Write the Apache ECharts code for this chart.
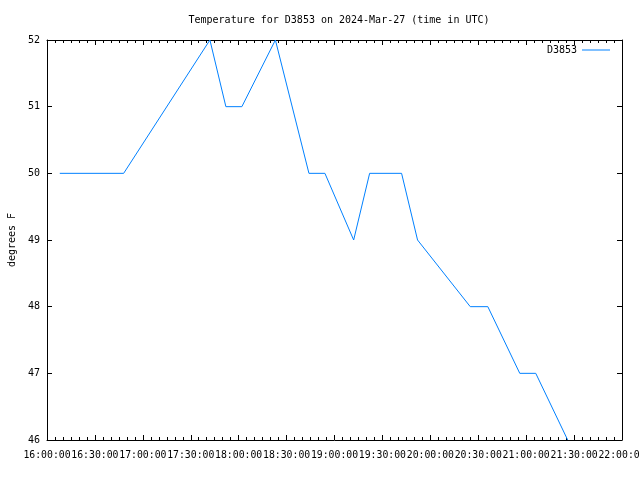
<!DOCTYPE html>
<html>
<head>
<meta charset="utf-8">
<script src="https://cdn.jsdelivr.net/npm/echarts@6/dist/echarts.min.js"></script>
<style>html,body{margin:0;padding:0;background:#fff}#c{width:640px;height:480px}</style>
</head>
<body>
<div id="c"></div>
<script>
var times = ["16:08","16:48","17:42","17:52","18:02","18:23","18:44","18:54","19:12","19:22","19:42","19:52","20:25","20:36","20:56","21:06","21:26"];
var temps = [50,50,52,51,51,52,50,50,49,50,50,49,48,48,47,47,46];
var seriesName = "D3853";
var titleText = "Temperature for D3853 on 2024-Mar-27 (time in UTC)";
var yName = "degrees F";

function toMin(t){var p=t.split(":");return (+p[0])*60+(+p[1]);}
function fmt(v){var h=Math.floor(v/60),m=v%60;return (h<10?"0":"")+h+":"+(m<10?"0":"")+m+":00";}

var data = times.map(function(t,i){return [toMin(t), temps[i]];});
var font = "DejaVu Sans Mono";
var black = "#000";

var chart = echarts.init(document.getElementById('c'), null, {renderer:'canvas'});
chart.setOption({
  animation:false,
  backgroundColor:'#fff',
  title:{text:titleText, left:334, top:10, textAlign:'center',
    textStyle:{fontFamily:font,fontSize:10,fontWeight:'normal',color:black}},
  legend:{data:[seriesName], right:25, top:40, align:'right', itemWidth:28, itemHeight:1,
    icon:'rect', itemGap:5,
    textStyle:{fontFamily:font,fontSize:10,color:black}},
  grid:{left:47, right:18, top:40, bottom:40, show:false, containLabel:false, outerBoundsMode:'none'},
  xAxis:[{
    type:'value', min:960, max:1320, interval:30, position:'bottom',
    axisLine:{show:true,onZero:false,lineStyle:{color:black,width:1}},
    axisTick:{show:true,inside:true,length:5,lineStyle:{color:black}},
    minorTick:{show:true,splitNumber:6,length:3,lineStyle:{color:black}},
    splitLine:{show:false},
    axisLabel:{show:true,margin:10,formatter:fmt,interval:0,showMinLabel:true,showMaxLabel:true,
      hideOverlap:false,fontFamily:font,fontSize:9.8,color:black}
  },{
    type:'value', min:960, max:1320, interval:30, position:'top',
    axisLine:{show:true,onZero:false,lineStyle:{color:black,width:1}},
    axisTick:{show:true,inside:true,length:5,lineStyle:{color:black}},
    minorTick:{show:true,splitNumber:6,length:3,lineStyle:{color:black}},
    splitLine:{show:false}, axisLabel:{show:false}
  }],
  yAxis:[{
    type:'value', min:46, max:52, interval:1, position:'left',
    name:yName, nameLocation:'middle', nameGap:30, nameRotate:90,
    nameTextStyle:{fontFamily:font,fontSize:10,color:black},
    axisLine:{show:true,onZero:false,lineStyle:{color:black,width:1}},
    axisTick:{show:true,inside:true,length:5,lineStyle:{color:black}},
    splitLine:{show:false},
    axisLabel:{margin:7,fontFamily:font,fontSize:10,color:black}
  },{
    type:'value', min:46, max:52, interval:1, position:'right',
    axisLine:{show:true,onZero:false,lineStyle:{color:black,width:1}},
    axisTick:{show:true,inside:true,length:5,lineStyle:{color:black}},
    splitLine:{show:false}, axisLabel:{show:false}
  }],
  series:[{
    name:seriesName, type:'line', data:data, showSymbol:false, symbol:'none',
    color:'#0080ff', lineStyle:{color:'#0080ff',width:1}, xAxisIndex:0, yAxisIndex:0
  }]
});
</script>
</body>
</html>
